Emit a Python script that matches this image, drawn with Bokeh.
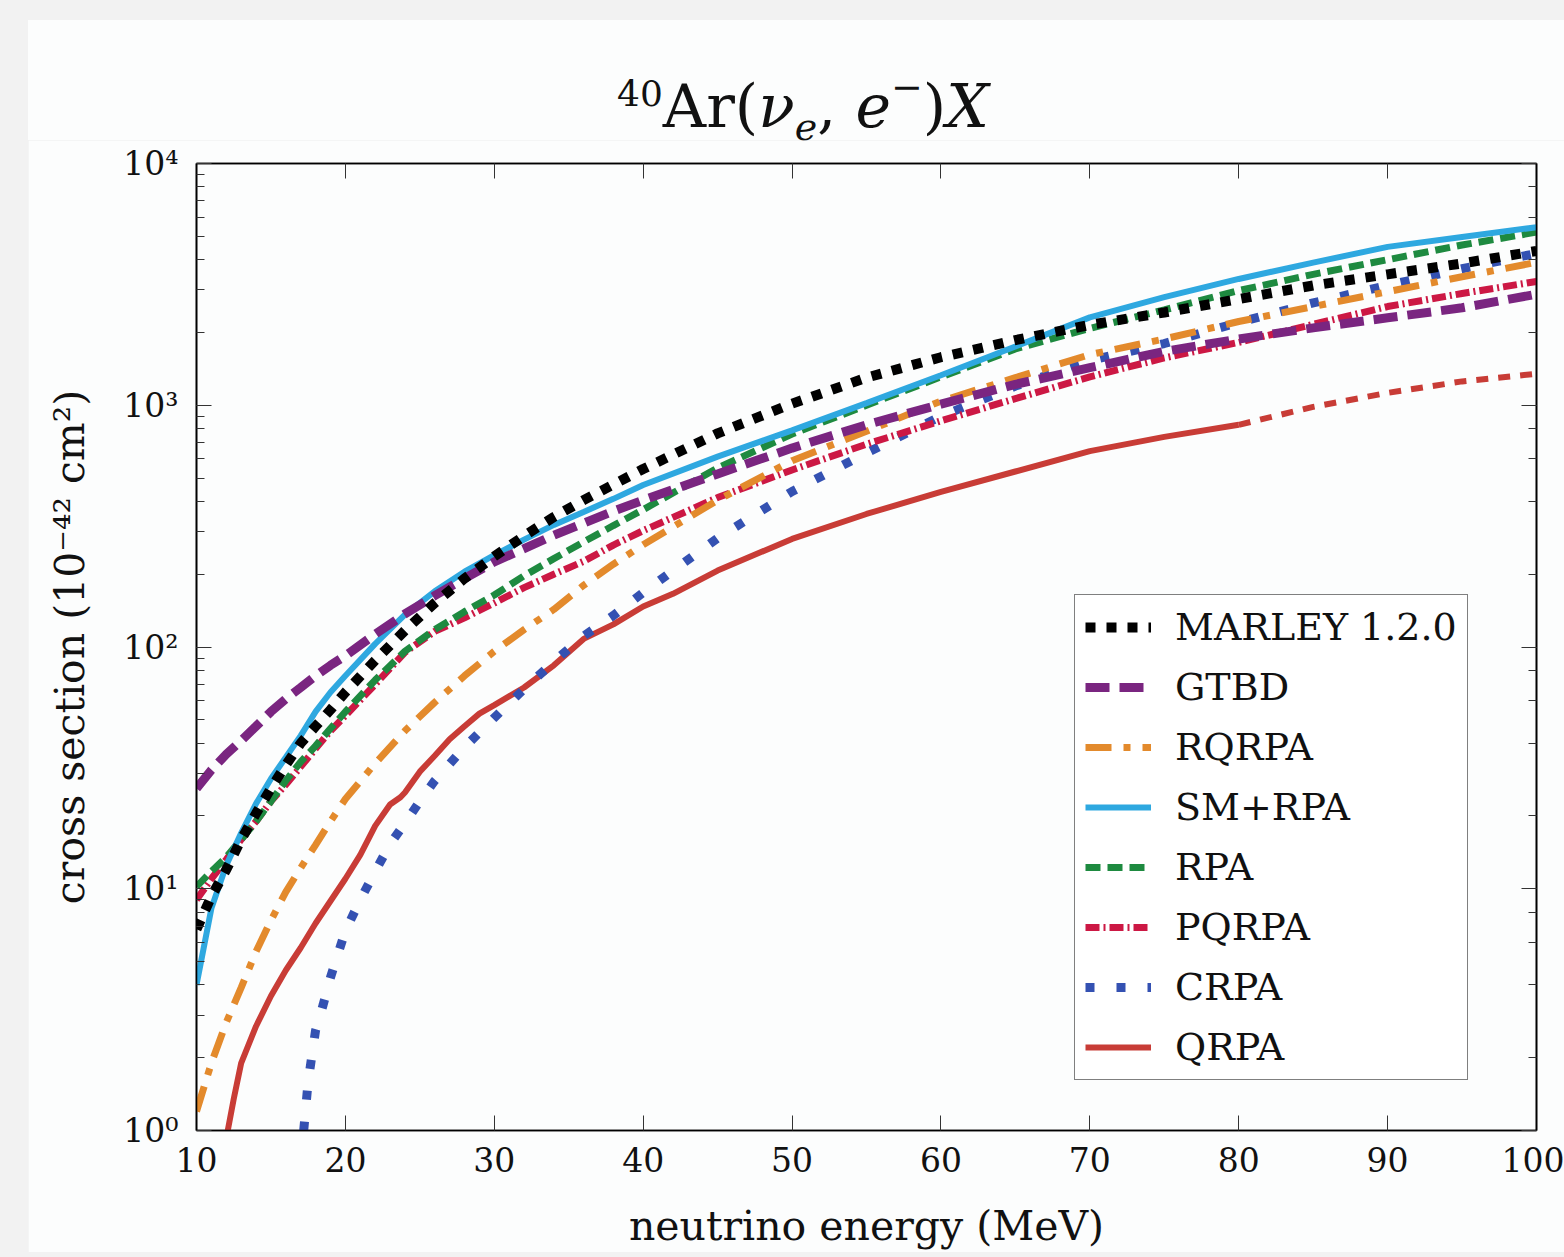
from bokeh.plotting import figure
from bokeh.layouts import column
from bokeh.models import (Range1d, FixedTicker, LinearAxis, LogAxis, CustomJSTickFormatter,
                          Legend, LegendItem, Div)
from bokeh.embed import file_html
from bokeh.resources import INLINE

FONT = "DejaVu Serif"

# ---------------- data ----------------
x_ticks = [10, 20, 30, 40, 50, 60, 70, 80, 90, 100]

E_common = [10, 11, 12, 13, 14, 15, 16, 17, 18, 19, 20, 22, 24, 26, 28, 30, 32, 34, 36, 38, 40,
            45, 50, 55, 60, 65, 70, 75, 80, 85, 90, 95, 100]

marley = [6.8, 9.3, 12, 16, 20.5, 26, 32.5, 40, 47, 55, 65, 88, 117, 152, 192, 237, 288, 345, 405, 470, 545,
          765, 1015, 1300, 1580, 1860, 2150, 2420, 2750, 3130, 3480, 3860, 4350]
gtbd = [26, 31, 36, 41, 47, 54, 61, 68, 76, 84, 92, 113, 137, 163, 192, 225, 255, 290, 325, 365, 405,
        520, 665, 830, 1010, 1220, 1430, 1670, 1880, 2090, 2300, 2530, 2880]
rqrpa = [1.2, 1.9, 2.8, 3.9, 5.5, 7.4, 9.7, 12.2, 15.2, 19, 23.5, 33, 45, 59, 76, 96, 118, 143, 180, 220, 265,
         405, 590, 780, 1040, 1300, 1620, 1880, 2220, 2560, 2950, 3400, 3900]
smrpa = [4.0, 8.3, 12.5, 17, 22.5, 28.5, 35, 43, 54, 65, 76, 103, 136, 170, 205, 240, 278, 320, 362, 410, 468,
         613, 787, 1020, 1330, 1750, 2310, 2800, 3330, 3890, 4520, 4970, 5450]
rpa = [10.2, 11.8, 13.5, 16, 19, 23, 28, 33.5, 39, 46, 54, 73, 96, 118, 140, 164, 197, 232, 272, 318, 370,
       550, 760, 1000, 1310, 1710, 2080, 2480, 2980, 3480, 4000, 4600, 5200]
pqrpa = [9.0, 11, 13.2, 16, 19, 23, 27, 32, 38, 45, 52, 70, 95, 116, 132, 152, 176, 200, 226, 264, 303,
         415, 540, 690, 862, 1065, 1310, 1570, 1820, 2160, 2560, 2900, 3250]

E_crpa = [17.2, 17.5, 18, 18.5, 19, 20, 21, 22, 23, 24, 25, 26, 28, 30, 32, 34, 36, 38, 40, 42, 45,
          50, 55, 60, 65, 70, 75, 80, 85, 90, 95, 100]
crpa = [1.0, 1.6, 2.6, 3.3, 4.3, 6.7, 9.0, 11.8, 15.3, 18.7, 23, 28, 38.5, 51, 67, 87, 111, 135, 168, 207, 282,
        440, 635, 900, 1200, 1530, 1800, 2200, 2650, 3130, 3670, 4250]

E_qrpa = [12.1, 12.5, 13, 14, 15, 16, 17, 18, 19, 20, 21, 22, 23, 23.7, 24, 25, 26, 27, 28, 29, 30,
          32, 34, 36, 38, 40, 42, 45, 50, 55, 60, 65, 70, 75, 80]
qrpa = [1.0, 1.35, 1.9, 2.7, 3.6, 4.6, 5.7, 7.2, 8.9, 11.0, 13.8, 18.2, 22.3, 23.9, 25, 30.5, 35.5, 41.5, 47, 53,
        57.5, 68, 84, 108, 124, 147, 166, 207, 280, 355, 438, 532, 646, 740, 830]
E_qrpa_ext = [80, 85, 90, 95, 100]
qrpa_ext = [830, 985, 1125, 1255, 1350]

labels = ["MARLEY 1.2.0", "GTBD", "RQRPA", "SM+RPA", "RPA", "PQRPA", "CRPA", "QRPA"]
colors = {"MARLEY 1.2.0": "#000000", "GTBD": "#7a2580", "RQRPA": "#e38a2c", "SM+RPA": "#2ea8e0",
          "RPA": "#1e8a40", "PQRPA": "#cc1844", "CRPA": "#3451b2", "QRPA": "#c83c36"}

CARD = "#fcfdfd"
GREY = "#f2f2f2"

# ---------------- layout geometry (page px) ----------------
CARD_L, CARD_T, CARD_B = 28, 20, 1252
FRAME_L, FRAME_T, FRAME_W, FRAME_H = 196, 163, 1340, 967
DIV_H = 120
FIG_W = 1564 - CARD_L
mb_left = FRAME_L - CARD_L
mb_top = FRAME_T - CARD_T - DIV_H
mb_right = FIG_W - mb_left - FRAME_W
mb_bottom = CARD_B - (FRAME_T + FRAME_H)

p = figure(frame_width=FRAME_W, frame_height=FRAME_H,
           x_range=Range1d(10, 100), y_range=Range1d(1, 1e4), y_axis_type="log",
           output_backend="svg", toolbar_location=None,
           min_border_left=mb_left, min_border_right=mb_right,
           min_border_top=mb_top, min_border_bottom=mb_bottom,
           background_fill_color=CARD, border_fill_color=CARD)
p.margin = (0, 0, 5, CARD_L)
p.grid.visible = False
p.outline_line_color = "black"
p.outline_line_width = 1.6

sup_js = """
const e = Math.round(Math.log10(tick));
const m = {"0":"\u2070","1":"\u00b9","2":"\u00b2","3":"\u00b3","4":"\u2074","5":"\u2075",
           "6":"\u2076","7":"\u2077","8":"\u2078","9":"\u2079","-":"\u207b"};
return "10" + String(e).split("").map(c => m[c]).join("");
"""
empty_js = "return '';"


def style_axis(ax):
    ax.axis_line_color = "black"
    ax.axis_line_width = 1.6
    ax.major_tick_line_color = "#333333"
    ax.major_tick_line_width = 1
    ax.minor_tick_line_color = "#333333"
    ax.minor_tick_line_width = 1
    ax.major_tick_in = 15
    ax.major_tick_out = 0
    ax.minor_tick_in = 8
    ax.minor_tick_out = 0
    ax.major_label_text_font = FONT
    ax.major_label_text_color = "#111111"
    ax.axis_label_text_font = FONT
    ax.axis_label_text_font_style = "normal"
    ax.axis_label_text_color = "#111111"


xax = p.xaxis[0]
xax.ticker = FixedTicker(ticks=x_ticks, minor_ticks=[])
style_axis(xax)
xax.major_label_text_font_size = "33px"
xax.major_label_standoff = 16
xax.axis_label = "neutrino energy (MeV)"
xax.axis_label_text_font_size = "41px"
xax.axis_label_standoff = 27

yax = p.yaxis[0]
yax.formatter = CustomJSTickFormatter(code=sup_js)
style_axis(yax)
yax.major_label_text_font_size = "33px"
yax.major_label_standoff = 18
yax.axis_label = "cross section (10\u207b\u2074\u00b2 cm\u00b2)"
yax.axis_label_text_font_size = "41px"
yax.axis_label_standoff = 26

top = LinearAxis(ticker=FixedTicker(ticks=x_ticks, minor_ticks=[]),
                 formatter=CustomJSTickFormatter(code=empty_js))
style_axis(top)
p.add_layout(top, "above")
right = LogAxis(formatter=CustomJSTickFormatter(code=empty_js))
style_axis(right)
p.add_layout(right, "right")

# ---------------- curves (drawn bottom to top) ----------------
r_q = p.line(E_qrpa, qrpa, line_color=colors["QRPA"], line_width=6)
p.line(E_qrpa_ext, qrpa_ext, line_color=colors["QRPA"], line_width=6, line_dash="12 10")
r_c = p.line(E_crpa, crpa, line_color=colors["CRPA"], line_width=9, line_dash="9 22")
r_pq = p.line(E_common, pqrpa, line_color=colors["PQRPA"], line_width=7, line_dash="14 4 2 4")
r_rpa = p.line(E_common, rpa, line_color=colors["RPA"], line_width=7, line_dash="15 7")
r_sm = p.line(E_common, smrpa, line_color=colors["SM+RPA"], line_width=6)
r_rq = p.line(E_common, rqrpa, line_color=colors["RQRPA"], line_width=7, line_dash="26 12 7 12")
r_g = p.line(E_common, gtbd, line_color=colors["GTBD"], line_width=9, line_dash="24 10")
r_m = p.line(E_common, marley, line_color=colors["MARLEY 1.2.0"], line_width=10, line_dash="10 11")

rend = {"MARLEY 1.2.0": r_m, "GTBD": r_g, "RQRPA": r_rq, "SM+RPA": r_sm, "RPA": r_rpa,
        "PQRPA": r_pq, "CRPA": r_c, "QRPA": r_q}
items = [LegendItem(label=lab, renderers=[rend[lab]]) for lab in labels]

legend = Legend(items=items, location=(1074 - FRAME_L, (FRAME_T + FRAME_H) - 1080),
                glyph_width=66, glyph_height=44, label_height=44, spacing=16,
                padding=10, margin=0, label_standoff=24,
                label_text_font=FONT, label_text_font_size="38px", label_text_color="#111111",
                border_line_color="black", border_line_width=1.5,
                background_fill_color="white", background_fill_alpha=1.0)
p.add_layout(legend)

# ---------------- title as rich text ----------------
sup40 = '<span style="font-size:36px;vertical-align:0.58em;line-height:0">40</span>'
sube = '<span style="font-size:38px;vertical-align:-0.34em;line-height:0"><i>e</i></span>'
supm = '<span style="font-size:38px;vertical-align:0.70em;line-height:0">\u2212</span>'
title_html = (
    f'<div style="font-family:\'{FONT}\',serif;font-size:60px;line-height:60px;color:#111111;'
    f'white-space:nowrap;padding-left:{617 - CARD_L}px;padding-top:56px;margin:0">'
    f'{sup40}Ar(<i>\u03bd</i>{sube}, <i>e</i>{supm})<i>X</i></div>'
)
title_div = Div(text=title_html, width=FIG_W, height=DIV_H,
                styles={"background-color": CARD})
title_div.margin = (CARD_T, 0, 0, CARD_L)

layout = column(title_div, p, spacing=0, styles={"background-color": GREY})

open("out.html", "w").write(file_html(layout, INLINE))
